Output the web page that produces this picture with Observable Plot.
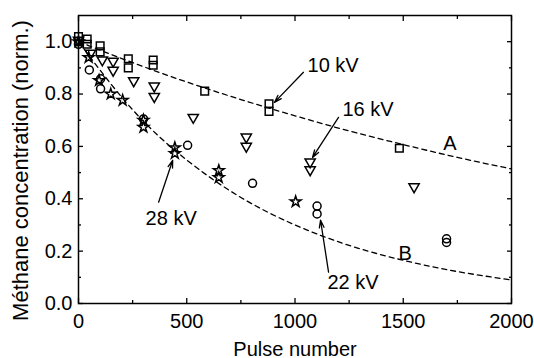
<!DOCTYPE html>
<html><head><meta charset="utf-8">
<script src="https://cdn.jsdelivr.net/npm/d3@7"></script>
<script src="https://cdn.jsdelivr.net/npm/@observablehq/plot@0.6"></script>
<style>
html,body{margin:0;padding:0;background:#fff}
#chart svg{display:block}
</style>
</head><body><div id="chart"></div>
<script>
// ---- data ----
const sqX  = [0, 0, 40, 40, 100, 100, 230, 230, 345, 345, 583, 880, 880, 1482];
const sqY  = [1.02, 1.0, 1.01, 0.99, 0.984, 0.961, 0.935, 0.90, 0.93, 0.91, 0.811, 0.763, 0.734, 0.593];

const triX = [0, 55, 110, 160, 160, 255, 350, 350, 530, 775, 775, 1070, 1070, 1550];
const triY = [1.0, 0.95, 0.925, 0.92, 0.885, 0.845, 0.825, 0.785, 0.705, 0.63, 0.595, 0.535, 0.505, 0.44];

const cirX = [0, 50, 102, 102, 300, 504, 804, 1102, 1102, 1700, 1700];
const cirY = [0.99, 0.892, 0.858, 0.82, 0.705, 0.604, 0.459, 0.372, 0.342, 0.247, 0.233];

const starX = [0, 47, 95, 149, 204, 300, 300, 445, 445, 648, 648, 1003];
const starY = [1.0, 0.94, 0.852, 0.80, 0.776, 0.70, 0.673, 0.595, 0.573, 0.508, 0.481, 0.389];

const curveX = [0, 250, 500, 750, 1000, 1250, 1500, 1750, 2000];
const curveA = [1.0, 0.92, 0.846, 0.779, 0.717, 0.659, 0.607, 0.558, 0.514];
const curveB = [1.0, 0.74, 0.548, 0.405, 0.30, 0.222, 0.165, 0.122, 0.09];

const annText = ["10 kV", "16 kV", "28 kV", "22 kV"];
const annX    = [1058, 1219, 310, 1150];
const annY    = [0.908, 0.74, 0.326, 0.081];
const arrX1   = [1039, 1201, 370, 1155];
const arrY1   = [0.883, 0.711, 0.387, 0.12];
const arrX2   = [905, 1081, 435, 1118];
const arrY2   = [0.768, 0.558, 0.547, 0.318];

const curveLabels = ["A", "B"];
const curveLabelX = [1685, 1478];
const curveLabelY = [0.612, 0.192];

const xLabel = "Pulse number";
const yLabel = "Méthane concentration (norm.)";
const xTicks = [0, 500, 1000, 1500, 2000];
const xMinor = [250, 750, 1250, 1750];
const yTicks = [0, 0.2, 0.4, 0.6, 0.8, 1.0];
const yMinor = [0.1, 0.3, 0.5, 0.7, 0.9];

// ---- tables ----
const pts = (X, Y) => X.map((x, i) => ({x, y: Y[i]}));
const squares = pts(sqX, sqY), tris = pts(triX, triY), circles = pts(cirX, cirY), stars = pts(starX, starY);
const lineA = pts(curveX, curveA), lineB = pts(curveX, curveB);
const ann = annText.map((t, i) => ({t, x: annX[i], y: annY[i], x1: arrX1[i], y1: arrY1[i], x2: arrX2[i], y2: arrY2[i]}));
const cl = curveLabels.map((t, i) => ({t, x: curveLabelX[i], y: curveLabelY[i]}));

const triangleDown = {
  draw(ctx, size) {
    const a = Math.sqrt(4 * size / Math.sqrt(3));
    const h = a * Math.sqrt(3) / 2;
    ctx.moveTo(-a / 2, -h / 2);
    ctx.lineTo(a / 2, -h / 2);
    ctx.lineTo(0, h / 2);
    ctx.closePath();
  }
};

const font = "'Liberation Sans', Arial, Helvetica, sans-serif";
const dotStyle = {x: "x", y: "y", stroke: "black", fill: "none", strokeWidth: 1.5};

const tickAxes = (anchor, ticks, size, isX) =>
  (isX ? Plot.axisX : Plot.axisY)({anchor, ticks, tickSize: size, fill: "none", label: null, strokeWidth: 1.3});

const chart = Plot.plot({
  width: 534, height: 358,
  marginLeft: 78, marginRight: 23, marginTop: 15, marginBottom: 55,
  style: {fontFamily: font, fontSize: "20px", background: "white", color: "black", overflow: "visible"},
  x: {domain: [0, 2000]},
  y: {domain: [0, 1.1]},
  marks: [
    Plot.line(lineA, {x: "x", y: "y", curve: "natural", stroke: "black", strokeWidth: 1.3, strokeDasharray: "5,4"}),
    Plot.line(lineB, {x: "x", y: "y", curve: "natural", stroke: "black", strokeWidth: 1.3, strokeDasharray: "5,4"}),
    Plot.dot(squares, {...dotStyle, symbol: "square", r: 4.3}),
    Plot.dot(tris, {...dotStyle, symbol: triangleDown, r: 3.8}),
    Plot.dot(circles, {...dotStyle, symbol: "circle", r: 4}),
    Plot.dot(stars, {...dotStyle, symbol: "star", r: 3.4}),
    Plot.arrow(ann, {x1: "x1", y1: "y1", x2: "x2", y2: "y2", stroke: "black", strokeWidth: 1.3, headLength: 9, headAngle: 35}),
    Plot.text(ann, {x: "x", y: "y", text: "t", textAnchor: "start", lineAnchor: "middle", fontSize: 20, fill: "black"}),
    Plot.text(cl, {x: "x", y: "y", text: "t", textAnchor: "start", lineAnchor: "middle", fontSize: 20, fill: "black"}),
    Plot.frame({stroke: "black", strokeWidth: 1.5}),
    Plot.axisX({anchor: "bottom", ticks: xTicks, tickSize: 0, tickPadding: 10, tickFormat: d3.format("d"),
      label: xLabel, labelAnchor: "center", labelOffset: 52, labelArrow: false}),
    Plot.axisY({anchor: "left", ticks: yTicks, tickSize: 0, tickPadding: 6, tickFormat: d3.format(".1f"), label: null}),
    Plot.text([yLabel], {frameAnchor: "left", text: d => d, rotate: -90, textAnchor: "middle", lineAnchor: "top",
      dx: -66, dy: 11, fontSize: 22, fill: "black"}),
    tickAxes("bottom", xTicks, -5, true),
    tickAxes("bottom", xMinor, -3, true),
    tickAxes("top", xTicks, -5, true),
    tickAxes("top", xMinor, -3, true),
    tickAxes("left", yTicks, -5, false),
    tickAxes("left", yMinor, -3, false),
    tickAxes("right", yTicks, -5, false),
    tickAxes("right", yMinor, -3, false)
  ]
});
document.getElementById("chart").appendChild(chart);
</script>
</body></html>
